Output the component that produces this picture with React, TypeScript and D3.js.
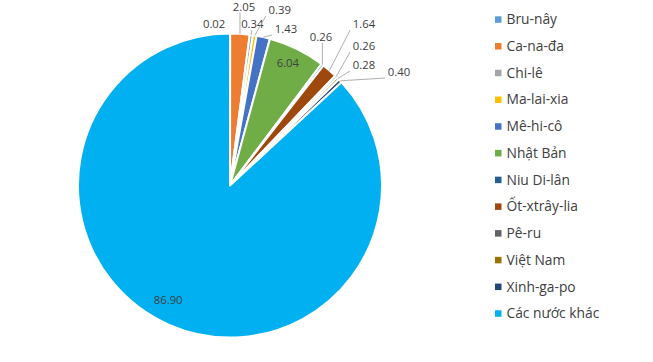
import React from "react";
import * as d3 from "d3";

const categories = [
  "Bru-nây",
  "Ca-na-đa",
  "Chi-lê",
  "Ma-lai-xia",
  "Mê-hi-cô",
  "Nhật Bản",
  "Niu Di-lân",
  "Ốt-xtrây-lia",
  "Pê-ru",
  "Việt Nam",
  "Xinh-ga-po",
  "Các nước khác",
];
const values = [0.02, 2.05, 0.34, 0.39, 1.43, 6.04, 0.26, 1.64, 0.26, 0.28, 0.4, 86.9];
const valueLabels = ["0.02", "2.05", "0.34", "0.39", "1.43", "6.04", "0.26", "1.64", "0.26", "0.28", "0.40", "86.90"];
const colors = [
  "#5B9BD5",
  "#ED7D31",
  "#A5A5A5",
  "#FFC000",
  "#4472C4",
  "#70AD47",
  "#255E91",
  "#9E480E",
  "#636363",
  "#997300",
  "#264478",
  "#00B0F0",
];
// label placement offsets relative to the slice's outer mid-point
const labelOffsets: [number, number][] = [
  [-16, -9.5],
  [4, -27],
  [1, -11],
  [25, -25.5],
  [22.7, -8.2],
  [-9, 13.5],
  [-1.4, -27.8],
  [34.6, -46.5],
  [27.9, -30.7],
  [26, -13.5],
  [58.8, -8.8],
  [-1, -25.3],
];
const hasLeader = [false, true, true, true, true, false, true, true, true, true, true, false];

const W = 653;
const H = 362;
const cx = 230;
const cy = 185.5;
const R = 152;

export default function App() {
  const pie = d3
    .pie<number>()
    .sort(null)
    .value((d) => d)
    .startAngle(0)
    .endAngle(2 * Math.PI);
  const arcs = pie(values);
  const arc = d3.arc<d3.PieArcDatum<number>>().innerRadius(0).outerRadius(R);
  const edge = d3.arc<d3.PieArcDatum<number>>().innerRadius(R).outerRadius(R);

  const legendY = d3
    .scalePoint<string>()
    .domain(categories)
    .range([19.3, 313.3]);

  const font = "'Open Sans', sans-serif";

  return (
    <svg
      width={W}
      height={H}
      style={{ position: "absolute", left: 0, top: 0, background: "#fff" }}
    >
      <g transform={`translate(${cx},${cy})`}>
        {arcs.map((a, i) => (
          <path key={i} d={arc(a) || ""} fill={colors[i]} stroke="#fff" strokeWidth={2} strokeLinejoin="round" />
        ))}
        {arcs.map((a, i) => {
          const [px, py] = edge.centroid(a);
          const lx = px + labelOffsets[i][0];
          const ly = py + labelOffsets[i][1];
          const tw = valueLabels[i].length * 6.3 - 3.4;
          const x0 = lx - tw / 2 - 3;
          const x1 = lx + tw / 2 + 3;
          const y0 = ly - 6;
          const y1 = ly + 6;
          const ex = Math.max(x0, Math.min(x1, px));
          const ey = Math.max(y0, Math.min(y1, py));
          return (
            <g key={i}>
              {hasLeader[i] && (
                <line x1={px} y1={py} x2={ex} y2={ey} stroke="#A6A6A6" strokeWidth={0.9} />
              )}
              <text
                x={lx}
                y={ly}
                dy="0.36em"
                textAnchor="middle"
                fontFamily={font}
                fontSize={11.3}
                fill="#404040"
              >
                {valueLabels[i]}
              </text>
            </g>
          );
        })}
      </g>
      <g>
        {categories.map((c, i) => {
          const y = legendY(c) as number;
          return (
            <g key={c}>
              <rect x={495} y={y - 3} width={6.5} height={6.5} fill={colors[i]} />
              <text x={506.5} y={y} dy="0.36em" fontFamily={font} fontSize={13.8} fill="#404040">
                {c}
              </text>
            </g>
          );
        })}
      </g>
    </svg>
  );
}
